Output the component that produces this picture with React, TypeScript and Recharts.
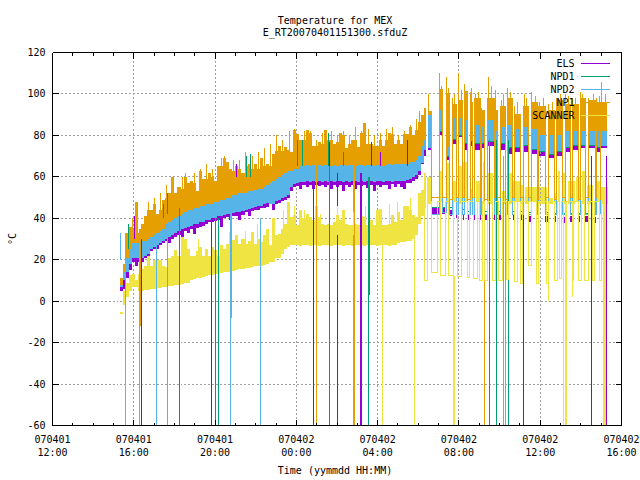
import React from "react";
import { ComposedChart, Area, Line, XAxis, YAxis, CartesianGrid, ReferenceLine } from "recharts";

const COLORS = { els: "#9400d3", npd1: "#009e73", npd2: "#56b4e9", np1: "#e69f00", scanner: "#f0e442" };
const seriesNames = ["ELS", "NPD1", "NPD2", "NP1", "SCANNER"];
const seriesColors = [COLORS.els, COLORS.npd1, COLORS.npd2, COLORS.np1, COLORS.scanner];
const titleLines = ["Temperature for MEX", "E_RT20070401151300.sfduZ"];
const xDates = ["070401", "070401", "070401", "070402", "070402", "070402", "070402", "070402"];
const xTimes = ["12:00", "16:00", "20:00", "00:00", "04:00", "08:00", "12:00", "16:00"];
const yTicks = [-60, -40, -20, 0, 20, 40, 60, 80, 100, 120];
const hourTicks = [0,1,2,3,4,5,6,7,8,9,10,11,12,13,14,15,16,17,18,19,20,21,22,23,24,25,26,27,28];

// Continuous phase: hours since 12:00
const t1 = [3.3,3.45,3.6,3.75,3.9,4.05,4.2,4.35,4.5,4.65,4.8,4.95,5.1,5.25,5.4,5.55,5.7,5.85,6,6.15,6.3,6.45,6.6,6.75,6.9,7.05,7.2,7.35,7.5,7.65,7.8,7.95,8.1,8.25,8.4,8.55,8.7,8.85,9,9.15,9.3,9.45,9.6,9.75,9.9,10.05,10.2,10.35,10.5,10.65,10.8,10.95,11.1,11.25,11.4,11.55,11.7,11.85,12,12.15,12.3,12.45,12.6,12.75,12.9,13.05,13.2,13.35,13.5,13.65,13.8,13.95,14.1,14.25,14.4,14.55,14.7,14.85,15,15.15,15.3,15.45,15.6,15.75,15.9,16.05,16.2,16.35,16.5,16.65,16.8,16.95,17.1,17.25,17.4,17.55,17.7,17.85,18,18.15,18.3,18.4];
const np1High1 = [11,18,33,36,35,48,33,37,41,44,44,47,42,44,49,50,52,60,52,55,54,60,57,58,57,53,63,59,59,62,60,58,65,65,69,67,64,63,65,64,62,65,66,64,66,64,69,65,66,65,71,72.6,75,72.5,74.5,73,72,82.5,80.5,78,78,82.5,81,75,75,77,76,82.5,78,78,76,77,81,80,74,76,78,78,74.5,81,86,76,76,75,75,78,75,78,81,80.5,76,78,76,80.5,80.5,84,80,82.5,86.5,90,93,93];
const npd2Top1 = [8,14,21,25,28,28,28,29,29,30,31,32,33,34,35,37,38,39,40,41,42,43,44,44,45,45,46,46,47,47,47,48,48,49,49,50,50,51,51,52,52,52,53,53,53.5,54,54,55,56,57,58,59,60,61,62,63,63,64,64,65,65,65.5,65,65.5,65,65.5,65,65.5,65.5,65,65.5,65,65.5,65.5,65,65.5,65.5,65,65.5,65.5,65,65.5,65.5,65,65.5,65.5,65,65.5,66,65.5,66,66,66,66,66,67,67,68,70,75,78,78];
const npd2Low1 = [7,10,14,18,21,21,21,21,22,23,25,26,27,28,29,30,31,32,33,34,35,35.5,36,36.5,37,37,38,38,39,39.4,40,40,41,41,41.5,42,42,42.5,43,43,43.5,44,44.5,45,45.5,46,46,47,47.5,47,47,48.5,49,50,50.5,51,55,56.5,57,57.5,57.5,58,57.5,58,57.5,58,57.5,58,57.5,58,57.5,58,58,57.5,58,57.5,58,58,57.5,58,57.5,58,58,57.5,58,58,57.5,58,58,57.5,58,58,58,58,58.5,59,60,61,63,66.5,73,73];
const elsLow1 = [5,6,11,15,19,17,19,19,21,21,24,25,25,27,28,29,28,30,31,32,31,34,33,35,32.5,35.5,36,36.5,37,38,38,38.5,39,36,40,40.5,39,41,41,39,41.5,43,41,43.5,44,44,45,45,45.5,47,44,47,47.5,48.5,49,50,53,55,55.5,54,56,55,56,54,56,55.5,56,55,56,54,56,55,56,53,56,55,56,54,56,55.5,56,54.5,56,53,56,55,56,56,54,56.5,55,56.5,55,54,57,57,58,59,61,66,70,70];
const scannerHigh1 = [-5,5,9,12.4,13,10,13,15.6,17,22,17,19.7,19.7,19.7,17,16.5,21,22,24.5,22,31,30,25,22,22,24,26,22,25,22,26,24.5,22,27,25,27.4,33.4,29.4,31.8,27.7,30,27.7,29,33.4,27.7,30,28.5,31.8,35,27,40,31.8,32.6,35,37.4,48,40.6,41.5,36.6,44,40,42,40.6,39,46,40.6,37.4,36.6,37.4,36.6,38,41.5,39,44,37.4,36.6,36.6,37.4,36.6,41,40.6,36.6,39,36.6,44,44.7,36.6,36.6,37.4,41.5,38,43,39,46,46,44,41.5,40.6,52,53.5,62,62];
const scannerLow1 = [-6,-2,2,5,7,7,5,5,5.5,5.5,6,6,6.5,6.5,7,7,7.5,7.5,8,8,8.5,9,9,10,10.5,11,11,11.5,12,12.4,12.5,13,13,13.5,14,14,14,14.5,15,15.5,15.5,16,16,16.5,17,17,17,17.5,18,19,19,21,21,23,25,26,27,27,27,26.5,27,27,26.5,27,27,26.5,27,27,27,26.5,27,27,27,26.5,27,27,26.5,27,27,27,26.5,27,27,27,26.5,27,27,27,26.5,27,27,28,28.5,28.5,29,29,30,32,37,41,45,45];

// Cycling phase: hot periods of the warm units
const hotStart = [18.48,19.02,19.37,19.66,19.96,20.25,20.55,20.79,21.09,21.43,21.78,22.07,22.37,22.71,23.2,23.55,23.94,24.39,24.78,25.22,25.57,25.96,26.36,26.75,26.99];
const hotEnd = [18.63,19.17,19.56,19.86,20.2,20.4,20.69,21.04,21.28,21.73,21.92,22.27,22.66,23.01,23.4,23.89,24.24,24.68,25.12,25.47,25.86,26.21,26.7,26.99,27.29];
const np1Peak = [100,110,108,98,110,105,101,100,93,108,102,97,103,94,100,101,96,95,98,100,98,101,98,98,106];
const np1Body = [92,102,100,95,97,101,96,98,92,98,92,94,98,90,94,96,94,92,97,95,95,98,97,96,96];
const npd2TopHot = [90,92,74,88,88,87,87,85,84,87,82,84,85,83,84,83,80,80,80,82,82,82,82,82,82];
const npd2LowHot = [74,82,70,78,80,76,77,76,76,77,75,76,74,74,75,73,72,71,72,74,75,75,75,74,75];
const elsLowHot = [73,80,68,76,79,73,75,73,74,75,73,73,71,72,72,71,70,69,70,72,73,74,74,72,74];
const np1Cold = [50,50,49,50,50,49,50,50,49,50,50,49,50,50,50,49,50,49,50,50,49,50,50,49];
const npd2Cold = [42,43,42,42,42,42,42,42,42,42,42,42,42,42,42,42,42,42,42,42,42,42,42,42];
const npd1Cold = [45,45,45,44,44,43.5,43.5,43.5,43.5,43.5,43.5,43.5,43.5,43.5,43,43,43,42.5,42.5,42.5,42.5,42.5,42.5,42.5];
const elsCold = [42,42,41,40,39,39,39,39,39,39,39,39,39,39,38,38,38,38,37.5,38,38,38,37.5,37.5];

// Cycling phase: the scanner's cold periods and warm blocks
const scannerColdStart = [18.33,18.63,19.07,19.51,19.91,20.4,20.74,20.99,21.28,21.63,21.97,22.32,22.71,23.01,23.4,23.84,24.29,24.68,24.97,25.22,25.57,25.86,26.16,26.55,26.9,27.09];
const scannerColdEnd = [18.43,18.97,19.32,19.71,20.15,20.5,20.89,21.14,21.43,21.78,22.12,22.42,22.86,23.15,23.55,23.94,24.39,24.83,25.07,25.27,25.66,26.01,26.36,26.65,27.04,27.19];
const scannerColdValue = [10,14,12.5,12.5,12,11.5,11,10,10,10,10,10.5,9.5,8.5,17,8.5,8.5,10,11,-60,10,10,10,10,10,-60];
const scannerBlockStart = [18.43,19.07,19.42,19.71,19.96,20.2,20.55,20.84,21.19,21.38,21.78,22.12,22.42,22.66,23.06,23.25,23.45,23.94,24.39,24.68,24.88,25.07,25.37,25.76,26.06,26.31,26.75,26.99];
const scannerBlockEnd = [18.63,19.22,19.51,19.86,20.15,20.4,20.69,21.04,21.28,21.68,21.92,22.27,22.61,23.01,23.2,23.4,23.89,24.34,24.63,24.83,24.97,25.27,25.71,25.96,26.26,26.6,26.99,27.34];
const scannerBlockHigh = [60,63,66.5,58,65,67,54,58,67,62,57,53,62,58,56,55,55,55,50,52,63,62,58,60,63,56,58,55];
const scannerBlockLow = [47,48,47,48,47,48,47,48,47,47,48,47,47,48,47,47,48,47,47,47,48,47,47,48,47,47,48,47];

// Isolated excursions: [hour, from, to]
const elsSpikes = [[4.36,30,-60],[7.8,38,-60],[12.82,55,-60],[14,62,-60],[15.18,62,-60],[15.23,62,-60],[23.2,70,-60],[26.5,70,-60],[27.27,70,-60],[4.03,41,30],[9.05,66,60],[9.55,67,60],[15.7,77,65],[16.15,78.5,65],[17.45,78,65],[13.65,77,65]];
const npd1Spikes = [[6.27,45,-60],[8,40,-60],[8.19,40,-60],[13.61,65,-60],[15.55,60,-60],[15.6,60,3],[21.48,78,-60],[21.87,78,-60],[22.46,78,-60],[3.76,37,25],[5.68,52,42],[5.48,47,40],[9.55,70,60],[9.74,71,60],[13.58,81,65],[12.08,78,65],[12.28,78,65],[14.3,78,65]];
const npd2Spikes = [[3.37,33,20],[5.14,30,-60],[5.68,35,-60],[8.78,50,-8],[8.78,-8,-60],[8.83,50,-8],[10.26,40,-60],[22.19,70,-60],[22.29,70,-60]];
const np1Spikes = [[3.57,33,-60],[4.26,35,-60],[4.31,35,-12],[12.97,70,-60],[14.79,70,-60],[14.84,70,-60],[21.28,90,-60]];
const np1Noise = [[3.95,30,40],[4.72,40,48],[5.02,42,50],[5.33,44,52],[5.62,46,56],[5.93,48,58],[6.38,50,60],[6.55,52,62],[6.98,52,62],[7.3,54,64],[7.58,55,66],[7.88,55,64],[8.33,58,69],[8.48,58,70],[8.93,58,68],[9.22,58,68],[9.52,60,72],[9.83,60,70],[10.13,60,72],[10.42,62,74],[10.72,64,76],[11.03,66,80],[11.33,68,78],[11.65,70,82],[11.93,70,83],[12.38,72,82],[12.68,72,82],[12.98,72,78],[13.28,72,81],[13.72,72,82],[14.03,72,80],[14.33,72,82],[14.63,72,80],[14.93,72,84],[15.22,72,82],[15.53,72,83],[15.83,72,80],[16.13,72,81],[16.43,72,83],[16.73,72,84],[17.03,72,80],[17.33,72,82],[17.63,74,85],[17.93,76,88],[18.08,80,92],[19.12,95,104],[19.48,96,103],[19.78,92,100],[20.12,92,102],[20.62,92,103],[20.95,92,101],[21.6,92,104],[22.2,90,100],[22.55,92,101],[22.9,88,96],[23.32,90,98],[23.75,90,99],[24.15,88,98],[24.6,88,96],[25,90,100],[25.4,90,99],[25.75,90,98],[26.1,90,100],[26.6,90,100],[26.9,90,99],[27.2,90,100]];
const scannerNoise = [[7.2,18,30],[9.5,20,34],[10.08,22,37],[11.35,30,44],[11.93,30,46],[12.4,30,44],[13.2,30,42],[14,32,46],[14.8,32,43],[15.4,32,46],[16,32,44],[16.6,32,47],[17,32,48],[17.6,34,50]];
const scannerSpikes = [[16.22,28,-60],[17.79,30,-60],[19.73,12,-60],[19.78,12,-60],[25.17,48,-60],[27.14,48,-60],[24.39,11,0],[25.57,10,2]];

const bandRows = (lo: number[], hi: number[]) => t1.map((t, i) => ({ t, band: [lo[i], hi[i]] }));
const spikeRows = (list: number[][]) => list.flatMap(([t, a, b]) => [{ t, y: a }, { t, y: b }, { t, y: null }]);
const hotRows = (lo: number[], peak: number[], body: number[]) =>
  hotStart.flatMap((s, i) => [
    { t: s, band: [lo[i], peak[i]] },
    { t: s + 0.05, band: [lo[i], body[i]] },
    { t: hotEnd[i], band: [lo[i], body[i]] },
    { t: hotEnd[i], band: null },
  ]);
const squareRows = (level: number[], cold: number[]) =>
  cold.flatMap((c, i) => [
    { t: hotEnd[i], y: level[i] },
    { t: hotEnd[i], y: c },
    { t: hotStart[i + 1], y: c },
    { t: hotStart[i + 1], y: level[i + 1] },
  ]);
const elsColdRows = elsCold.flatMap((c, i) => [
  { t: hotEnd[i], band: [c, c + 3] },
  { t: hotStart[i + 1], band: [c, c + 3] },
  { t: hotStart[i + 1], band: null },
]);
const scannerBlockRows = scannerBlockStart.flatMap((s, i) => [
  { t: s, band: [scannerBlockLow[i], scannerBlockHigh[i]] },
  { t: scannerBlockEnd[i], band: [scannerBlockLow[i], scannerBlockHigh[i]] },
  { t: scannerBlockEnd[i], band: null },
]);
const scannerSquareRows = scannerColdStart.flatMap((s, i) => [
  { t: s, y: 48 },
  { t: s, y: scannerColdValue[i] },
  { t: scannerColdEnd[i], y: scannerColdValue[i] },
  { t: scannerColdEnd[i], y: 48 },
]);

const FONT = "'DejaVu Sans Mono', monospace";
const textStyle = { fontFamily: FONT, fontSize: 10, fill: "#000" };
const GRID = "#a0a0a0";

const tickIndex = (h: number) => h / 4;
const BottomTick = ({ x, y, payload }: any) => {
  const h = payload.value;
  const major = h % 4 === 0;
  return (
    <g>
      <line x1={x} y1={y} x2={x} y2={y - (major ? 6 : 3)} stroke="#000" shapeRendering="crispEdges" />
      {major && (
        <>
          <text x={x} y={y + 17} textAnchor="middle" style={textStyle}>{xDates[tickIndex(h)]}</text>
          <text x={x} y={y + 30} textAnchor="middle" style={textStyle}>{xTimes[tickIndex(h)]}</text>
        </>
      )}
    </g>
  );
};
const TopTick = ({ x, y, payload }: any) => (
  <line x1={x} y1={y} x2={x} y2={y + (payload.value % 4 === 0 ? 6 : 3)} stroke="#000" shapeRendering="crispEdges" />
);
const LeftTick = ({ x, y, payload }: any) => (
  <g>
    <line x1={x} y1={y} x2={x + 6} y2={y} stroke="#000" shapeRendering="crispEdges" />
    <text x={x - 7} y={y + 3.5} textAnchor="end" style={textStyle}>{payload.value}</text>
  </g>
);
const RightTick = ({ x, y }: any) => (
  <line x1={x} y1={y} x2={x - 6} y2={y} stroke="#000" shapeRendering="crispEdges" />
);

const Overlay = () => (
  <svg width={640} height={480} style={{ position: "absolute", left: 0, top: 0, pointerEvents: "none" }}>
    {titleLines.map((s, i) => (
      <text key={s} x={335} y={24 + i * 12} textAnchor="middle" style={textStyle}>{s}</text>
    ))}
    <text x={335} y={474} textAnchor="middle" style={textStyle}>Time (yymmdd HH:MM)</text>
    <text transform="translate(16,239) rotate(-90)" textAnchor="middle" style={textStyle}>°C</text>
    {seriesNames.map((s, i) => (
      <g key={s}>
        <text x={574.5} y={67 + i * 13.1} textAnchor="end" style={textStyle}>{s}</text>
        <line x1={581} x2={610} y1={63.5 + i * 13.1} y2={63.5 + i * 13.1} stroke={seriesColors[i]} shapeRendering="crispEdges" />
      </g>
    ))}
  </svg>
);

const areaProps = { type: "stepAfter" as const, dataKey: "band", stroke: "none", fillOpacity: 1, isAnimationActive: false, connectNulls: false, dot: false, activeDot: false, shapeRendering: "crispEdges" };
const lineProps = { type: "linear" as const, dataKey: "y", strokeWidth: 1, isAnimationActive: false, connectNulls: false, dot: false, activeDot: false, shapeRendering: "crispEdges" };
const axisCommon = { type: "number" as const, interval: 0, tickSize: 0, tickMargin: 0, tickLine: false, allowDataOverflow: true, axisLine: { stroke: "#000", shapeRendering: "crispEdges" } };

export default function App() {
  return (
    <div style={{ position: "absolute", left: 0, top: 0, width: 640, height: 480, background: "#fff" }}>
      <ComposedChart width={640} height={480} margin={{ top: 51.5, left: 51.5, right: 17.5, bottom: 53.5 }}>
        <XAxis {...axisCommon} xAxisId={0} dataKey="t" domain={[0, 28]} ticks={hourTicks} height={1} tick={BottomTick} />
        <XAxis {...axisCommon} xAxisId="top" orientation="top" dataKey="t" domain={[0, 28]} ticks={hourTicks} height={1} tick={TopTick} />
        <YAxis {...axisCommon} yAxisId={0} domain={[-60, 120]} ticks={yTicks} width={1} tick={LeftTick} />
        <YAxis {...axisCommon} yAxisId="right" orientation="right" domain={[-60, 120]} ticks={yTicks} width={1} tick={RightTick} />
        <CartesianGrid stroke={GRID} strokeDasharray="2 2" shapeRendering="crispEdges" horizontalValues={[-40, -20, 0, 20, 40, 60, 80]} verticalValues={[4, 8, 12, 16, 20]} syncWithTicks={false} />
        <ReferenceLine segment={[{ x: 0, y: 100 }, { x: 23.65, y: 100 }]} stroke={GRID} strokeDasharray="2 2" shapeRendering="crispEdges" />
        <ReferenceLine segment={[{ x: 24, y: -60 }, { x: 24, y: 72 }]} stroke={GRID} strokeDasharray="2 2" shapeRendering="crispEdges" />

        <Area {...areaProps} name="ELS" data={bandRows(elsLow1, npd2Low1)} fill={COLORS.els} />
        <Area {...areaProps} name="ELS hot" data={hotRows(elsLowHot, npd2LowHot, npd2LowHot)} fill={COLORS.els} />
        <Area {...areaProps} name="ELS cold" data={elsColdRows} fill={COLORS.els} />
        <Line {...lineProps} name="ELS events" data={spikeRows(elsSpikes)} stroke={COLORS.els} />
        <Line {...lineProps} name="NPD1 cycle" data={squareRows(npd2LowHot, npd1Cold)} stroke={COLORS.npd1} />
        <Line {...lineProps} name="NPD1" data={spikeRows(npd1Spikes)} stroke={COLORS.npd1} />
        <Area {...areaProps} name="NPD2" data={bandRows(npd2Low1, npd2Top1)} fill={COLORS.npd2} />
        <Area {...areaProps} name="NPD2 hot" data={hotRows(npd2LowHot, npd2TopHot, npd2TopHot)} fill={COLORS.npd2} />
        <Line {...lineProps} name="NPD2 cycle" data={squareRows(npd2TopHot, npd2Cold)} stroke={COLORS.npd2} />
        <Line {...lineProps} name="NPD2 events" data={spikeRows(npd2Spikes)} stroke={COLORS.npd2} />
        <Area {...areaProps} name="NP1" data={bandRows(npd2Top1, np1High1)} fill={COLORS.np1} />
        <Area {...areaProps} name="NP1 hot" data={hotRows(npd2TopHot, np1Peak, np1Body)} fill={COLORS.np1} />
        <Line {...lineProps} name="NP1 cycle" data={squareRows(np1Body, np1Cold)} stroke={COLORS.np1} />
        <Line {...lineProps} name="NP1 events" data={spikeRows(np1Spikes)} stroke={COLORS.np1} />
        <Line {...lineProps} name="NP1 noise" data={spikeRows(np1Noise)} stroke={COLORS.np1} />
        <Area {...areaProps} name="SCANNER" data={bandRows(scannerLow1, scannerHigh1)} fill={COLORS.scanner} />
        <Area {...areaProps} name="SCANNER hot" data={scannerBlockRows} fill={COLORS.scanner} />
        <Line {...lineProps} name="SCANNER cycle" data={scannerSquareRows} stroke={COLORS.scanner} />
        <Line {...lineProps} name="SCANNER events" data={spikeRows(scannerSpikes)} stroke={COLORS.scanner} />
        <Line {...lineProps} name="SCANNER noise" data={spikeRows(scannerNoise)} stroke={COLORS.scanner} />
      </ComposedChart>
      <Overlay />
    </div>
  );
}
